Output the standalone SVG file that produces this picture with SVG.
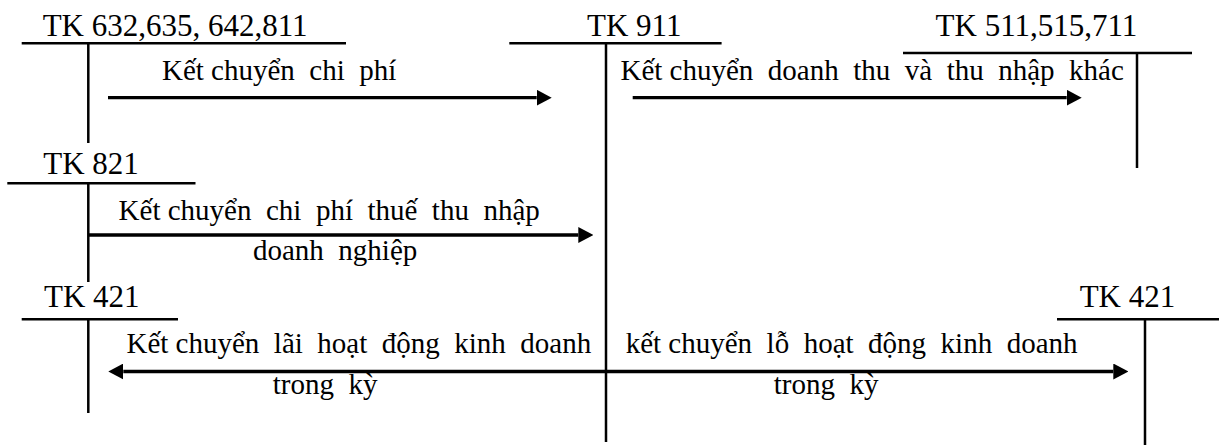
<svg xmlns="http://www.w3.org/2000/svg" width="1219" height="445" viewBox="0 0 1219 445">
  <style>
    .acct { fill: none; stroke: #000; stroke-width: 2.5; }
    .flow { fill: none; stroke: #000; stroke-width: 3.3; }
    .hdr { font-family: "Liberation Serif", "Times New Roman", serif; font-size: 31px; fill: #000; }
    .lbl { font-family: "Liberation Serif", "Times New Roman", serif; font-size: 29px; fill: #000; }
  </style>
  <defs>
    <marker id="head" markerUnits="userSpaceOnUse" viewBox="0 0 15 16" markerWidth="15" markerHeight="16" refX="0" refY="8" orient="auto-start-reverse">
      <path d="M0,0 L15,8 L0,16 Z" fill="#000"/>
    </marker>
  </defs>
  <rect width="1219" height="445" fill="#fff"/>

  <!-- T-accounts -->
  <g id="tk-632">
    <text class="hdr" x="42.7" y="35.7">TK 632,635, 642,811</text>
    <path class="acct" d="M21.7,43.3 H346 M88.3,43.3 V143"/>
  </g>
  <g id="tk-911">
    <text class="hdr" x="587" y="35.7">TK 911</text>
    <path class="acct" d="M509.3,43.3 H721.6 M606,43.3 V442"/>
  </g>
  <g id="tk-511">
    <text class="hdr" x="935.6" y="35.7">TK 511,515,711</text>
    <path class="acct" d="M903,53 H1192 M1137,53 V168"/>
  </g>
  <g id="tk-821">
    <text class="hdr" x="43.3" y="174.3">TK 821</text>
    <path class="acct" d="M7.3,183.3 H195.5 M88.3,183.3 V282"/>
  </g>
  <g id="tk-421-left">
    <text class="hdr" x="44" y="306.7">TK 421</text>
    <path class="acct" d="M21.7,319.3 H178 M88.3,319.3 V413"/>
  </g>
  <g id="tk-421-right">
    <text class="hdr" x="1079.7" y="306.7">TK 421</text>
    <path class="acct" d="M1057,319.3 H1219 M1145,319.3 V445"/>
  </g>

  <!-- Transfers between accounts -->
  <g id="connectors">
    <path class="flow" d="M108,97.7 H536.7" marker-end="url(#head)"/>
    <text class="lbl" x="162" y="80" xml:space="preserve">Kết chuyển  chi  phí</text>

    <path class="flow" d="M632.7,97.7 H1066.7" marker-end="url(#head)"/>
    <text class="lbl" x="620.5" y="80" xml:space="preserve">Kết chuyển  doanh  thu  và  thu  nhập  khác</text>

    <path class="flow" d="M88.3,235 H578.3" marker-end="url(#head)"/>
    <text class="lbl" x="118.6" y="220" xml:space="preserve">Kết chuyển  chi  phí  thuế  thu  nhập</text>
    <text class="lbl" x="253" y="260" xml:space="preserve">doanh  nghiệp</text>

    <path class="flow" d="M123.3,371.5 H1113.3" marker-start="url(#head)" marker-end="url(#head)"/>
    <text class="lbl" x="126.5" y="353" xml:space="preserve">Kết chuyển  lãi  hoạt  động  kinh  doanh</text>
    <text class="lbl" x="272.8" y="394" xml:space="preserve">trong  kỳ</text>
    <text class="lbl" x="625.7" y="353" xml:space="preserve">kết chuyển  lỗ  hoạt  động  kinh  doanh</text>
    <text class="lbl" x="773.7" y="394" xml:space="preserve">trong  kỳ</text>
  </g>
</svg>
